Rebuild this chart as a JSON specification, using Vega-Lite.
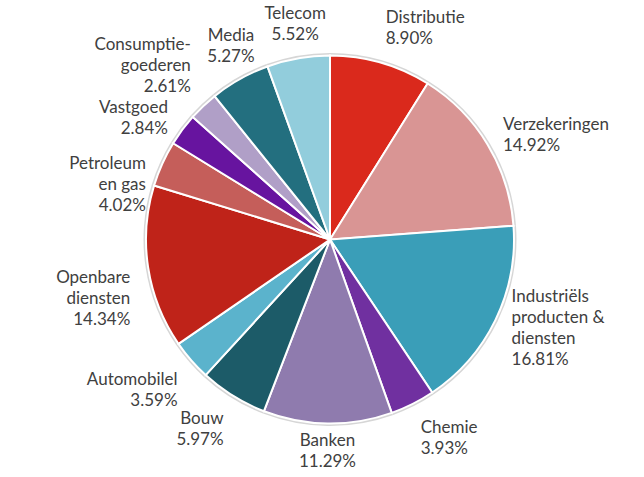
{
  "$schema": "https://vega.github.io/schema/vega-lite/v6.json",
  "width": 628,
  "height": 475,
  "autosize": {"type": "none"},
  "padding": {"left": 16, "top": 2, "right": 0, "bottom": 0},
  "background": "white",
  "data": {
    "values": [
      {"order": 1, "name": "Distributie", "value": 8.90, "label": "Distributie\n8.90%"},
      {"order": 2, "name": "Verzekeringen", "value": 14.92, "label": "Verzekeringen\n14.92%"},
      {"order": 3, "name": "Industriëls producten & diensten", "value": 16.81, "label": "Industriëls\nproducten &\ndiensten\n16.81%"},
      {"order": 4, "name": "Chemie", "value": 3.93, "label": "Chemie\n3.93%"},
      {"order": 5, "name": "Banken", "value": 11.29, "label": "Banken\n11.29%"},
      {"order": 6, "name": "Bouw", "value": 5.97, "label": "Bouw\n5.97%"},
      {"order": 7, "name": "Automobilel", "value": 3.59, "label": "Automobilel\n3.59%"},
      {"order": 8, "name": "Openbare diensten", "value": 14.34, "label": "Openbare\ndiensten\n14.34%"},
      {"order": 9, "name": "Petroleum en gas", "value": 4.02, "label": "Petroleum\nen gas\n4.02%"},
      {"order": 10, "name": "Vastgoed", "value": 2.84, "label": "Vastgoed\n2.84%"},
      {"order": 11, "name": "Consumptiegoederen", "value": 2.61, "label": "Consumptie-\ngoederen\n2.61%"},
      {"order": 12, "name": "Media", "value": 5.27, "label": "Media\n5.27%"},
      {"order": 13, "name": "Telecom", "value": 5.52, "label": "Telecom\n5.52%"}
    ]
  },
  "layer": [
    {
      "mark": {"type": "arc", "outerRadius": 186.5, "fill": "#d6d6d6", "stroke": null},
      "encoding": {
        "theta": {"field": "value", "type": "quantitative", "stack": true},
        "order": {"field": "order", "type": "quantitative"}
      }
    },
    {
      "mark": {"type": "arc", "outerRadius": 184, "stroke": "white", "strokeWidth": 2},
      "encoding": {
        "theta": {"field": "value", "type": "quantitative", "stack": true},
        "order": {"field": "order", "type": "quantitative"},
        "color": {
          "field": "name",
          "type": "nominal",
          "legend": null,
          "scale": {
            "domain": ["Distributie", "Verzekeringen", "Industriëls producten & diensten", "Chemie", "Banken", "Bouw", "Automobilel", "Openbare diensten", "Petroleum en gas", "Vastgoed", "Consumptiegoederen", "Media", "Telecom"],
            "range": ["#DA291C", "#D99594", "#3A9EB8", "#7030A0", "#8F7BAE", "#1C5B68", "#5BB3CC", "#BF2319", "#C55E5A", "#67149F", "#B09FC7", "#236F7F", "#92CDDC"]
          }
        }
      }
    },
    {
      "mark": {
        "type": "text",
        "radius": 202,
        "font": "Lato",
        "fontSize": 17,
        "lineHeight": 21,
        "lineBreak": "\n",
        "fill": "#404040",
        "baseline": "middle",
        "align": {"expr": "(datum.value_start + datum.value_end) / 2 < 47 ? 'left' : (((datum.value_start + datum.value_end) / 2 > 53 && (datum.value_start + datum.value_end) / 2 < 90) ? 'right' : 'center')"},
        "dy": {"expr": "((datum.value_start + datum.value_end) / 2 < 10 || (datum.value_start + datum.value_end) / 2 > 86) ? -((length(datum.label) - length(replace(datum.label, regexp('\\n', 'g'), ''))) * 21 + 6) : (((datum.value_start + datum.value_end) / 2 >= 47 && (datum.value_start + datum.value_end) / 2 <= 53) ? 0 : (((datum.value_start + datum.value_end) / 2 > 35 && (datum.value_start + datum.value_end) / 2 < 84) ? 8 : -((length(datum.label) - length(replace(datum.label, regexp('\\n', 'g'), ''))) * 10.5)))"}
      },
      "encoding": {
        "theta": {"field": "value", "type": "quantitative", "stack": true},
        "order": {"field": "order", "type": "quantitative"},
        "text": {"field": "label", "type": "nominal"}
      }
    }
  ],
  "config": {"view": {"stroke": null}}
}
